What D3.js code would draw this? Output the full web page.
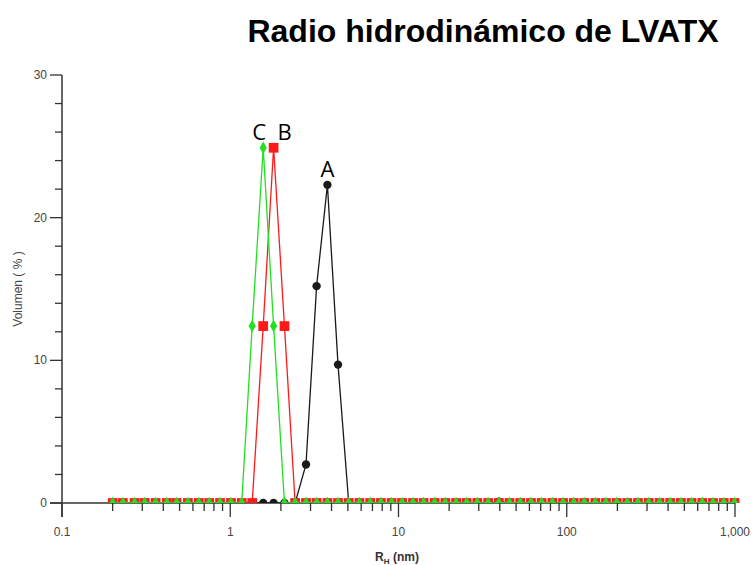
<!DOCTYPE html>
<html>
<head>
<meta charset="utf-8">
<script src="https://cdn.jsdelivr.net/npm/d3@7"></script>
<style>
  body { margin: 0; background: #fff; }
  svg { display: block; }
</style>
</head>
<body>
<svg id="chart" width="753" height="565"></svg>
<script>
// hydrodynamic radius bins (nm)
var radii = [0.20, 0.23, 0.27, 0.31, 0.36, 0.42, 0.48, 0.56, 0.65, 0.75,
    0.87, 1.01, 1.17, 1.35, 1.57, 1.81, 2.10, 2.43, 2.82, 3.26,
    3.78, 4.37, 5.06, 5.86, 6.79, 7.86, 9.10, 10.5, 12.2, 14.1,
    16.4, 19.0, 22.0, 25.4, 29.4, 34.1, 39.5, 45.7, 52.9, 61.3,
    70.9, 82.1, 95.1, 110, 127, 148, 171, 198, 229, 265,
    307, 356, 412, 477, 552, 639, 740, 857, 993];

var volA = [0, 0, 0, 0, 0, 0, 0, 0, 0, 0,
    0, 0, 0, 0, 0, 0, 0, 0, 2.7, 15.2,
    22.3, 9.7, 0, 0, 0, 0, 0, 0, 0, 0,
    0, 0, 0, 0, 0, 0, 0.1, 0, 0, 0,
    0, 0, 0, 0, 0, 0, 0, 0, 0, 0,
    0, 0, 0, 0, 0, 0, 0, 0, 0];

var volB = [0, 0, 0, 0, 0, 0, 0, 0, 0, 0,
    0, 0, 0, 0, 12.4, 24.9, 12.4, 0, 0, 0,
    0, 0, 0, 0, 0, 0, 0, 0, 0, 0,
    0, 0, 0, 0, 0, 0, 0, 0, 0, 0,
    0, 0, 0, 0, 0, 0, 0, 0, 0, 0,
    0, 0, 0, 0, 0, 0, 0, 0, 0];

var volC = [0, 0, 0, 0, 0, 0, 0, 0, 0, 0,
    0, 0, 0, 12.4, 24.9, 12.4, 0, 0, 0, 0,
    0, 0, 0, 0, 0, 0, 0, 0, 0, 0,
    0, 0, 0, 0, 0, 0, 0, 0, 0, 0,
    0, 0, 0, 0, 0, 0, 0, 0, 0, 0,
    0, 0, 0, 0, 0, 0, 0, 0, 0];

var xTicks = [0.1, 1, 10, 100, 1000];
var xTickLabels = ["0.1", "1", "10", "100", "1,000"];
var yTicks = [0, 10, 20, 30];

var svg = d3.select("#chart");
var plotL = 62, plotR = 735, plotT = 75, plotB = 503;

var x = d3.scaleLog().domain([0.1, 1000]).range([plotL, plotR]);
var y = d3.scaleLinear().domain([0, 30]).range([plotB, plotT]);

// title
svg.append("text")
    .attr("x", 483).attr("y", 42)
    .attr("text-anchor", "middle")
    .style("font-family", "Liberation Sans, Arial, sans-serif")
    .style("font-weight", "bold")
    .style("font-size", "32px")
    .text("Radio hidrodinámico de LVATX");

// minor ticks
var minorX = [];
[0.1, 1, 10, 100].forEach(function (d) {
    for (var k = 2; k <= 9; k++) minorX.push(d * k);
});
var axisColor = "#333";

svg.append("g").selectAll("line").data(minorX).enter().append("line")
    .attr("x1", function (d) { return x(d); })
    .attr("x2", function (d) { return x(d); })
    .attr("y1", plotB).attr("y2", plotB + 8)
    .attr("stroke", axisColor).attr("stroke-width", 1.3);

svg.append("g").selectAll("line").data(xTicks).enter().append("line")
    .attr("x1", function (d) { return x(d); })
    .attr("x2", function (d) { return x(d); })
    .attr("y1", plotB).attr("y2", plotB + 14)
    .attr("stroke", axisColor).attr("stroke-width", 1.3);

svg.append("g").selectAll("text").data(xTicks).enter().append("text")
    .attr("x", function (d) { return x(d); })
    .attr("y", 536)
    .attr("text-anchor", "middle")
    .style("font-family", "Liberation Sans, Arial, sans-serif")
    .style("font-size", "12px")
    .attr("fill", "#444")
    .text(function (d, i) { return xTickLabels[i]; });

// y ticks
var minorY = d3.range(0, 31, 2).filter(function (d) { return d % 10 != 0; });
svg.append("g").selectAll("line").data(minorY).enter().append("line")
    .attr("x1", plotL - 7).attr("x2", plotL)
    .attr("y1", function (d) { return y(d); })
    .attr("y2", function (d) { return y(d); })
    .attr("stroke", axisColor).attr("stroke-width", 1.3);

svg.append("g").selectAll("line").data(yTicks).enter().append("line")
    .attr("x1", plotL - 12).attr("x2", plotL)
    .attr("y1", function (d) { return y(d); })
    .attr("y2", function (d) { return y(d); })
    .attr("stroke", axisColor).attr("stroke-width", 1.3);

svg.append("g").selectAll("text").data(yTicks).enter().append("text")
    .attr("x", plotL - 15)
    .attr("y", function (d) { return y(d) + 4; })
    .attr("text-anchor", "end")
    .style("font-family", "Liberation Sans, Arial, sans-serif")
    .style("font-size", "12px")
    .attr("fill", "#444")
    .text(function (d) { return d; });

// axis lines
svg.append("line").attr("x1", plotL).attr("x2", plotL)
    .attr("y1", plotT).attr("y2", plotB + 14)
    .attr("stroke", axisColor).attr("stroke-width", 1.5);
svg.append("line").attr("x1", plotL - 12).attr("x2", plotR)
    .attr("y1", plotB).attr("y2", plotB)
    .attr("stroke", axisColor).attr("stroke-width", 1.5);

// axis titles
var xt = svg.append("text")
    .attr("x", 397).attr("y", 561)
    .attr("text-anchor", "middle")
    .style("font-family", "Liberation Sans, Arial, sans-serif")
    .style("font-size", "12px")
    .style("font-weight", "bold")
    .attr("fill", "#333");
xt.append("tspan").text("R");
xt.append("tspan").attr("dy", 3).style("font-size", "8px").text("H");
xt.append("tspan").attr("dy", -3).text(" (nm)");

svg.append("text")
    .attr("transform", "translate(22," + (plotT + plotB) / 2 + ") rotate(-90)")
    .attr("text-anchor", "middle")
    .style("font-family", "Liberation Sans, Arial, sans-serif")
    .style("font-size", "12px")
    .attr("fill", "#444")
    .text("Volumen ( % )");

// plot clip
svg.append("clipPath").attr("id", "plot")
    .append("rect").attr("x", plotL).attr("y", plotT - 10)
    .attr("width", plotR - plotL + 10).attr("height", plotB - plotT + 10);

var plot = svg.append("g").attr("clip-path", "url(#plot)");

var line = d3.line()
    .x(function (d) { return x(d[0]); })
    .y(function (d) { return y(d[1]); });

function series(vals, color, marker, size) {
    var pts = radii.map(function (r, i) { return [r, vals[i]]; });
    plot.append("path")
        .datum(pts)
        .attr("d", line)
        .attr("fill", "none")
        .attr("stroke", color)
        .attr("stroke-width", 1.3);
    plot.append("g").selectAll("path").data(pts).enter().append("path")
        .attr("transform", function (d) { return "translate(" + x(d[0]) + "," + y(d[1]) + ")"; })
        .attr("d", d3.symbol().type(marker).size(size))
        .attr("fill", color);
}

series(volA, "#1a1a1a", d3.symbolCircle, 55);
series(volB, "#ff1a1a", d3.symbolSquare, 95);
series(volC, "#22e022", d3.symbolDiamond, 45);

// peak labels
var peaks = [{ t: "C", r: 1.57, v: 24.9, dx: -4 }, { t: "B", r: 1.81, v: 24.9, dx: 11 }, { t: "A", r: 3.78, v: 22.3, dx: 0 }];
svg.append("g").selectAll("text").data(peaks).enter().append("text")
    .attr("x", function (d) { return x(d.r) + d.dx; })
    .attr("y", function (d) { return y(d.v) - 8; })
    .attr("text-anchor", "middle")
    .style("font-family", "Open Sans, sans-serif")
    .style("font-size", "22px")
    .attr("fill", "#000")
    .text(function (d) { return d.t; });
</script>
</body>
</html>
